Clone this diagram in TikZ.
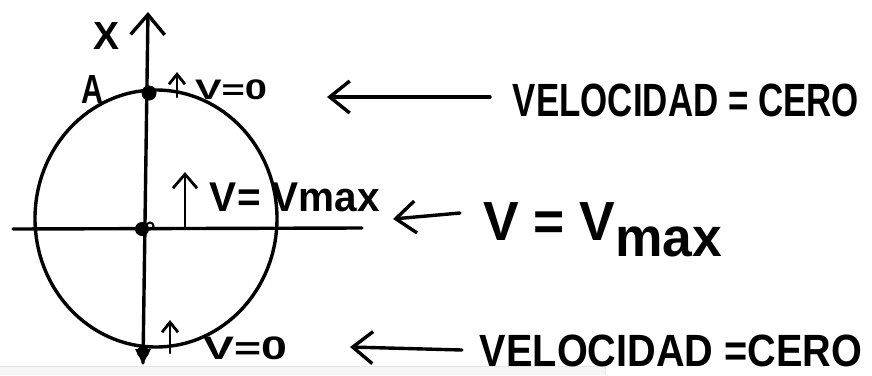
\documentclass[tikz,border=0pt]{standalone}
\usepackage{fontspec}
\setmainfont{Liberation Sans}
\usetikzlibrary{arrows.meta}
\newcommand{\fitto}[3]{\resizebox*{#1pt}{#2pt}{\bfseries #3}}
\begin{document}
\begin{tikzpicture}[x=1pt,y=-1pt,
  ink/.style={line width=3.4pt, line cap=round, line join=round},
  thinink/.style={line width=2.8pt, line cap=round, line join=round},
  lbl/.style={inner sep=0pt, outer sep=0pt},
  axisbarb/.style={-{Straight Barb[length=20pt,width=34pt]}},
  labelbarb/.style={-{Straight Barb[length=20pt,width=32pt]}},
  smallbarb/.style={-{Straight Barb[length=10pt,width=16pt]}},
  midbarb/.style={-{Straight Barb[length=14pt,width=24pt]}}]
\useasboundingbox (0,0) rectangle (872,375);
% scan band
\fill[gray!8] (0,366) rectangle (605,375);
\draw[gray!20, line width=0.6pt] (0,366) -- (605,366) -- (605,375);

% circle
\draw[ink] (156,218.5) ellipse [x radius=121pt, y radius=128.5pt];

% axes
\coordinate (vbot) at (143,363);
\coordinate (vtop) at (148,12);
\coordinate (hl) at (13,229);
\coordinate (hr) at (362,228);
\draw[ink, axisbarb] (vbot) -- (vtop);
\draw[ink] (hl) -- (hr);

% points
\fill (149,93) circle [radius=7.5pt];
\fill (142,229) circle [radius=7pt];
\draw[line width=2pt] (150,226) circle [radius=3.5pt];
\fill (143,352) circle [radius=6pt];
\fill (135,349) -- (151,349) -- (143,364) -- cycle;

% small velocity arrows
\coordinate (sa1) at (177,97);  \coordinate (sb1) at (177,72);
\coordinate (sa2) at (185,229); \coordinate (sb2) at (185,172);
\coordinate (sa3) at (170,353); \coordinate (sb3) at (170,320);
\draw[thinink, smallbarb] (sa1) -- (sb1);
\draw[thinink, midbarb] (sa2) -- (sb2);
\draw[thinink, smallbarb] (sa3) -- (sb3);

% labels near the circle
\node[lbl] (xlab) at (106,36) {\fitto{26}{27}{X}};
\node[lbl] (alab) at (92.5,89) {\fitto{22}{28}{A}};
\node[lbl] (v0top) at (231,90) {\fitto{72}{20}{V=0}};
\node[lbl] (vmid) at (295,197.5) {\fitto{170}{29}{V= Vmax}};
\node[lbl] (v0bot) at (245,348.5) {\fitto{84}{23}{V=0}};

% right labels
\node[lbl] (veltop) at (686,100.5) {\fitto{346}{33}{VELOCIDAD = CERO}};
\node[lbl] (vbig) at (602.5,230) {\fitto{239}{55}{V = V\raisebox{-0.3em}{max}}};
\node[lbl] (velbot) at (671,351) {\fitto{382}{32}{VELOCIDAD =CERO}};

% pointer arrows
\coordinate (t1) at (490,97);  \coordinate (h1) at (327,97);
\coordinate (t2) at (460,213); \coordinate (h2) at (393,219);
\coordinate (t3) at (462,350); \coordinate (h3) at (350,347);
\draw[ink, labelbarb] (t1) -- (h1);
\draw[ink, labelbarb] (t2) -- (h2);
\draw[ink, labelbarb] (t3) -- (h3);
\end{tikzpicture}
\end{document}
